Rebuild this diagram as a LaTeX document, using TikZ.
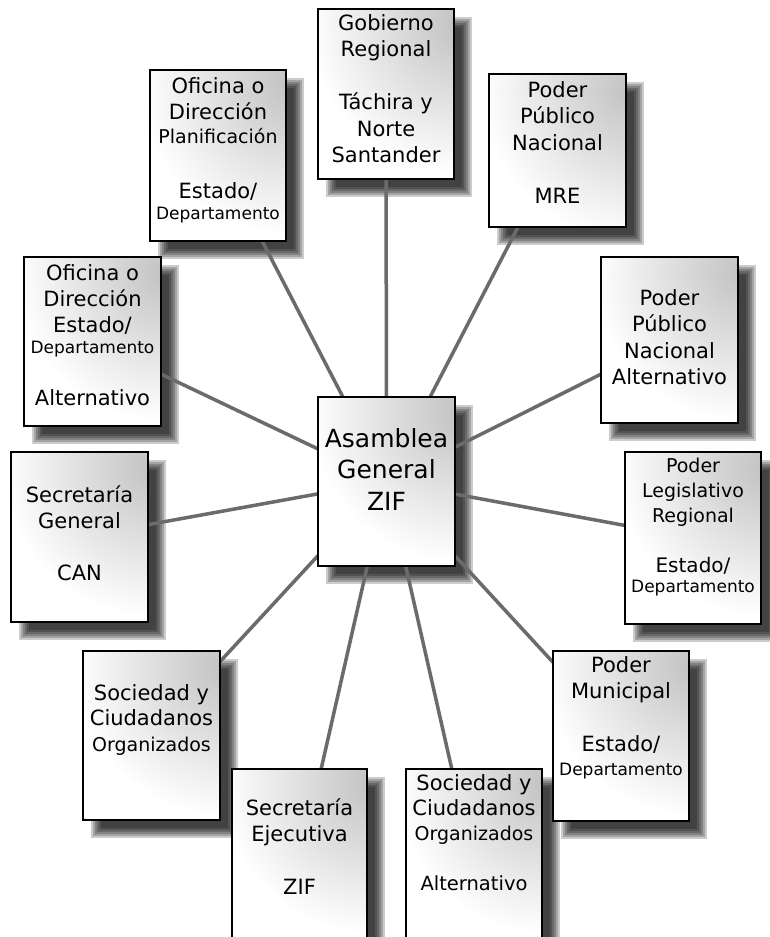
\documentclass[tikz,border=0pt]{standalone}
\usepackage{fontspec}
\setmainfont{DejaVu Sans}
\pgfdeclarelayer{bg}
\pgfdeclarelayer{shadow}
\pgfdeclarelayer{lines}
\pgfdeclarelayer{boxfill}
\pgfsetlayers{bg,shadow,lines,boxfill,main}
\newcommand\fsz[2]{\fontsize{#1bp}{#2bp}\selectfont}
\tikzset{
  box/.style={draw=black, line width=1.3bp, inner sep=0pt, outer sep=0pt},
  conn/.style={draw=black!58, line width=3.5bp},
  txt/.style={inner sep=0pt, anchor=base, text=black},
  shad/.style={fill=black, opacity=0.2, draw=none},
  glow/.style={inner color=black!24, outer color=white},
}
\newcommand\mkbox[5]{%
  \node[box, minimum width={(#4-#2)*1bp}, minimum height={(#5-#3)*1bp}] (#1) at ({(#2+#4)/2},{(#3+#5)/2}) {};
  \begin{pgfonlayer}{shadow}
    \foreach \e in {5,3,1,-1,-3,-5}
      \fill[shad] ({#2+13-(\e)},{#3+13-(\e)}) rectangle ({#4+13+(\e)},{#5+13+(\e)});
  \end{pgfonlayer}
  \begin{pgfonlayer}{boxfill}
    \fill[white] (#2,#3) rectangle (#4,#5);
    \begin{scope}
      \clip (#2,#3) rectangle (#4,#5);
      \shade[glow] ({#4+5},{#3+15}) circle (150);
    \end{scope}
  \end{pgfonlayer}}
\begin{document}
\begin{tikzpicture}[x=1bp,y=-1bp]
\useasboundingbox (0,0) rectangle (770,937);
\begin{pgfonlayer}{bg}
  \fill[white] (0,0) rectangle (770,937);
\end{pgfonlayer}
% boxes
\mkbox{b1}{318}{9}{454}{179}
\mkbox{b2}{489}{74}{626}{227}
\mkbox{b3}{150}{70}{286}{241}
\mkbox{b4}{24}{257}{161}{426}
\mkbox{b5}{601}{257}{738}{423}
\mkbox{asam}{318}{397}{455}{566}
\mkbox{b7}{11}{452}{148}{622}
\mkbox{b8}{625}{452}{761}{624}
\mkbox{b9}{83}{651}{220}{820}
\mkbox{b10}{553}{651}{689}{821}
\mkbox{b11}{232}{769}{367}{960}
\mkbox{b12}{406}{769}{542}{965}
% connectors
\begin{pgfonlayer}{lines}
  \foreach \b in {b1,b2,b3,b4,b5,b7,b8,b9,b10,b11,b12}
    \draw[conn] (asam) -- (\b);
\end{pgfonlayer}
% texts
\node[txt, font=\fsz{21}{26.5}] (t1) at (386,30)
  {\begin{tabular}[t]{@{}c@{}}Gobierno\\Regional\\{}\\Táchira y\\Norte\\Santander\end{tabular}};
\node[txt, font=\fsz{21}{26.5}] (t2) at (557.5,97)
  {\begin{tabular}[t]{@{}c@{}}Poder\\Público\\Nacional\\{}\\MRE\end{tabular}};
\node[txt, font=\fsz{21}{26}] (t3) at (218,93)
  {\begin{tabular}[t]{@{}c@{}}Oficina o\\Dirección\\[-2bp]\fsz{19}{22}Planificación\\[3bp]{}\\Estado/\\[-5bp]\fsz{17}{20}Departamento\end{tabular}};
\node[txt, font=\fsz{21}{26}] (t4) at (92.5,280)
  {\begin{tabular}[t]{@{}c@{}}Oficina o\\Dirección\\Estado/\\[-5bp]\fsz{17}{20}Departamento\\{}\\Alternativo\end{tabular}};
\node[txt, font=\fsz{21}{26.5}] (t5) at (669.5,305)
  {\begin{tabular}[t]{@{}c@{}}Poder\\Público\\Nacional\\Alternativo\end{tabular}};
\node[txt, font=\fsz{25}{31.5}] (t6) at (386.5,447)
  {\begin{tabular}[t]{@{}c@{}}Asamblea\\General\\ZIF\end{tabular}};
\node[txt, font=\fsz{21}{26}] (t7) at (79.5,502)
  {\begin{tabular}[t]{@{}c@{}}Secretaría\\General\\{}\\CAN\end{tabular}};
\node[txt, font=\fsz{19}{25}] (t8) at (693,472)
  {\begin{tabular}[t]{@{}c@{}}Poder\\Legislativo\\Regional\\{}\\\fsz{20}{24}Estado/\\[-5bp]\fsz{17}{20}Departamento\end{tabular}};
\node[txt, font=\fsz{21}{25.5}] (t9) at (151.5,700)
  {\begin{tabular}[t]{@{}c@{}}Sociedad y\\Ciudadanos\\\fsz{19}{22}Organizados\end{tabular}};
\node[txt, font=\fsz{21}{26.5}] (t10) at (621,672)
  {\begin{tabular}[t]{@{}c@{}}Poder\\Municipal\\{}\\Estado/\\[-3bp]\fsz{17}{20}Departamento\end{tabular}};
\node[txt, font=\fsz{21}{26.5}] (t11) at (299.5,815)
  {\begin{tabular}[t]{@{}c@{}}Secretaría\\Ejecutiva\\{}\\ZIF\end{tabular}};
\node[txt, font=\fsz{21}{25}] (t12) at (474,790)
  {\begin{tabular}[t]{@{}c@{}}Sociedad y\\Ciudadanos\\\fsz{19}{22}Organizados\\{}\\\fsz{19.5}{22}Alternativo\end{tabular}};
\end{tikzpicture}
\end{document}
